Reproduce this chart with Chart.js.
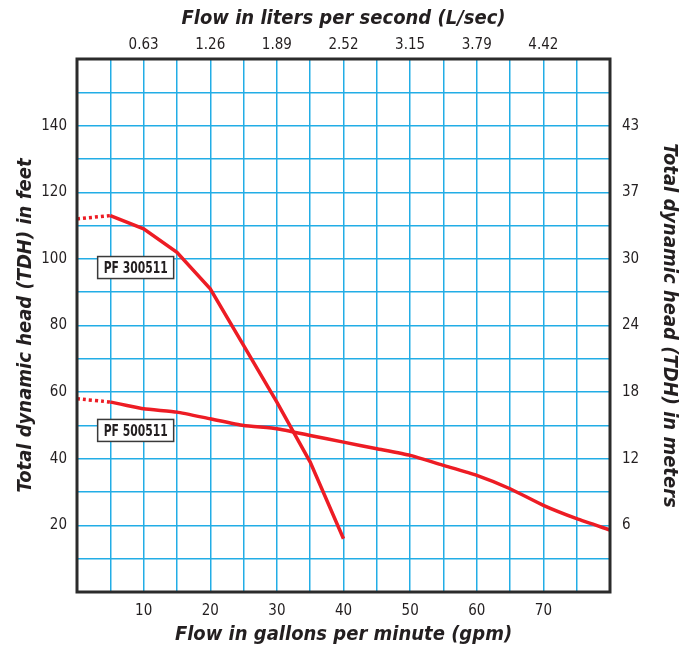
<!DOCTYPE html>
<html>
<head>
<meta charset="utf-8">
<script src="https://cdn.jsdelivr.net/npm/chart.js@4/dist/chart.umd.min.js"></script>
<style>
  html, body { margin: 0; padding: 0; background: #fff; }
  #wrap { width: 691px; height: 647px; position: relative; }
</style>
</head>
<body>
<div id="wrap"><canvas id="pumpChart"></canvas></div>
<script>
// Pump curve data
const gpmUpper = [0, 5, 10, 15, 20, 25, 30, 35, 40];
const headUpper = [112, 113, 109, 102, 91, 74, 57, 39, 16];

const gpmLower = [0, 5, 10, 15, 20, 25, 30, 35, 40, 45, 50, 55, 60, 65, 70, 75, 80];
const headLower = [58, 57, 55, 54, 52, 50, 49, 47, 45, 43, 41, 38, 35, 31, 26, 22, 18.6];

// Tick labels
const gpmTicks = [10, 20, 30, 40, 50, 60, 70];
const lpsTicks = ["0.63", "1.26", "1.89", "2.52", "3.15", "3.79", "4.42"];
const feetTicks = [20, 40, 60, 80, 100, 120, 140];
const meterTicks = ["6", "12", "18", "24", "30", "37", "43"];

// Curve labels: [text, gpm of left edge, feet of centre]
const curveLabels = [
  ["PF 300511", 3.1, 97.4],
  ["PF 500511", 3.1, 48.5],
];

const narrow = '"Liberation Sans Narrow", "DejaVu Sans Condensed", "Roboto Condensed", "Liberation Sans", sans-serif';
const gridBlue = "#22ade6";
const curveRed = "#ed1c24";
const ink = "#231f20";

function pointsOf(xs, ys) {
  return xs.map((x, i) => ({ x: x, y: ys[i] }));
}

// dotted first segment, solid after
const dottedStart = {
  borderDash: (ctx) => (ctx.p0DataIndex === 0 ? [3, 3] : undefined),
};

// frame around the plot + curve name boxes
const framePlugin = {
  id: "frame",
  afterDatasetsDraw(chart) {
    const { ctx, chartArea, scales } = chart;
    ctx.save();
    ctx.strokeStyle = "#2b2b2b";
    ctx.lineWidth = 3;
    ctx.strokeRect(chartArea.left, chartArea.top, chartArea.right - chartArea.left, chartArea.bottom - chartArea.top);

    ctx.font = "bold 16px " + narrow;
    ctx.textBaseline = "middle";
    ctx.textAlign = "left";
    curveLabels.forEach(([text, gx, fy]) => {
      const left = scales.x.getPixelForValue(gx);
      const cy = scales.y.getPixelForValue(fy);
      const w = Math.min(ctx.measureText(text).width + 12, 76);
      const h = 22;
      ctx.fillStyle = "#fff";
      ctx.fillRect(left, cy - h / 2, w, h);
      ctx.strokeStyle = "#3a3a3a";
      ctx.lineWidth = 1.5;
      ctx.strokeRect(left, cy - h / 2, w, h);
      ctx.fillStyle = ink;
      ctx.fillText(text, left + 6, cy + 1, w - 12);
    });
    ctx.restore();
  },
};

function fixSize(prop, size) {
  return function (scale) {
    scale[prop] = size;
  };
}

const titleFont = { family: narrow, size: 20, weight: "bold", style: "italic" };
const tickFont = { family: narrow, size: 15 };

new Chart(document.getElementById("pumpChart"), {
  type: "line",
  data: {
    datasets: [
      {
        label: "PF 300511",
        data: pointsOf(gpmUpper, headUpper),
        borderColor: curveRed,
        borderWidth: 3.5,
        pointRadius: 0,
        tension: 0,
        segment: dottedStart,
      },
      {
        label: "PF 500511",
        data: pointsOf(gpmLower, headLower),
        borderColor: curveRed,
        borderWidth: 3.5,
        pointRadius: 0,
        tension: 0.15,
        segment: dottedStart,
      },
    ],
  },
  options: {
    responsive: true,
    maintainAspectRatio: false,
    animation: false,
    layout: { padding: 0 },
    plugins: {
      legend: { display: false },
      tooltip: { enabled: false },
    },
    scales: {
      x: {
        type: "linear",
        position: "bottom",
        min: 0,
        max: 80,
        afterFit: fixSize("height", 55),
        grid: { color: gridBlue, lineWidth: 1.5, drawTicks: false },
        border: { display: false },
        ticks: {
          stepSize: 5,
          padding: 10,
          color: ink,
          font: tickFont,
          maxRotation: 0,
          autoSkip: false,
          callback: (v) => (gpmTicks.includes(v) ? String(v) : ""),
        },
        title: {
          display: true,
          text: "Flow in gallons per minute (gpm)",
          color: ink,
          font: titleFont,
          padding: { top: 0, bottom: 0 },
        },
      },
      xTop: {
        type: "linear",
        position: "top",
        min: 0,
        max: 80,
        afterFit: fixSize("height", 59),
        grid: { display: false, drawTicks: false, tickLength: 0 },
        border: { display: false },
        ticks: {
          stepSize: 10,
          padding: 5,
          color: ink,
          font: tickFont,
          maxRotation: 0,
          autoSkip: false,
          callback: (v) => {
            const i = gpmTicks.indexOf(v);
            return i >= 0 ? lpsTicks[i] : "";
          },
        },
        title: {
          display: true,
          text: "Flow in liters per second (L/sec)",
          color: ink,
          font: titleFont,
          padding: { top: 7, bottom: 0 },
        },
      },
      y: {
        position: "left",
        min: 0,
        max: 160,
        afterFit: fixSize("width", 77),
        grid: { color: gridBlue, lineWidth: 1.5, drawTicks: false },
        border: { display: false },
        ticks: {
          stepSize: 10,
          padding: 10,
          color: ink,
          font: tickFont,
          autoSkip: false,
          callback: (v) => (feetTicks.includes(v) ? String(v) : ""),
        },
        title: {
          display: true,
          text: "Total dynamic head (TDH) in feet",
          color: ink,
          font: titleFont,
          padding: { top: 14, bottom: 0 },
        },
      },
      yRight: {
        position: "right",
        min: 0,
        max: 160,
        afterFit: fixSize("width", 81),
        grid: { display: false, drawTicks: false, tickLength: 0 },
        border: { display: false },
        ticks: {
          stepSize: 20,
          padding: 12,
          color: ink,
          font: tickFont,
          autoSkip: false,
          callback: (v) => {
            const i = feetTicks.indexOf(v);
            return i >= 0 ? meterTicks[i] : "";
          },
        },
        title: {
          display: true,
          text: "Total dynamic head (TDH) in meters",
          color: ink,
          font: titleFont,
          padding: { top: 10, bottom: 0 },
        },
      },
    },
  },
  plugins: [framePlugin],
});
</script>
</body>
</html>
